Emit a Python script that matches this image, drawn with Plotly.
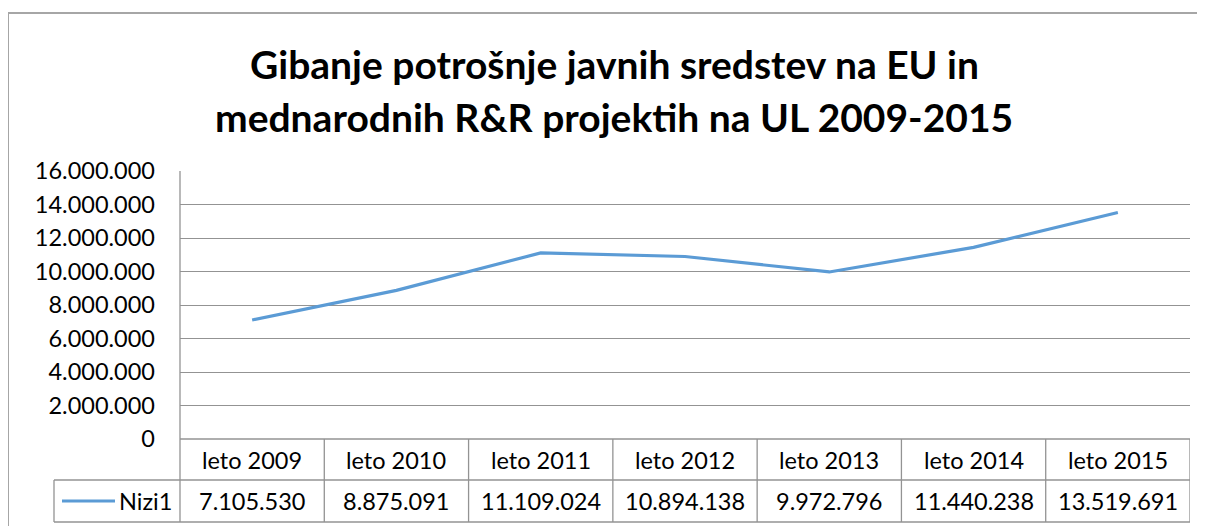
import plotly.graph_objects as go

categories = ["leto 2009", "leto 2010", "leto 2011", "leto 2012", "leto 2013", "leto 2014", "leto 2015"]
values = [7105530, 8875091, 11109024, 10894138, 9972796, 11440238, 13519691]
series_name = "Nizi1"
title_lines = ["Gibanje potrošnje javnih sredstev na EU in", "mednarodnih R&R projektih na UL 2009-2015"]
y_ticks = [0, 2000000, 4000000, 6000000, 8000000, 10000000, 12000000, 14000000, 16000000]

OFF = 8  # page body margin
W, H = 1205 - OFF, 526 - OFF
# plot area in reference-screen pixels
L, R, T, B = 180, 1190, 171, 439
FONT = "Lato"
GRID = "#939393"
BLUE = "#5B9BD5"

def px(xp):
    return (xp - L) / (R - L)

def py(yp):
    return (B - yp) / (B - T)

def fmt(v):
    return f"{v:,}".replace(",", ".")

n = len(categories)
xs = list(range(n))

fig = go.Figure()
fig.add_trace(go.Scatter(x=xs, y=values, mode="lines", name=series_name,
                         line=dict(color=BLUE, width=3.2), showlegend=False,
                         hoverinfo="skip"))

shapes = []
annotations = []
# outer chart border
shapes.append(dict(type="rect", xref="paper", yref="paper", x0=px(8), x1=px(1230),
                   y0=py(560), y1=py(13), line=dict(color="#A6A6A6", width=2)))
# left vertical axis line through table
shapes.append(dict(type="line", xref="paper", yref="paper", x0=0, x1=0,
                   y0=py(522), y1=1, line=dict(color=GRID, width=1.3)))
# table horizontal lines
row1 = py(480)
row2 = py(522)
for yv, x0 in [(0, 0), (row1, px(54)), (row2, px(54))]:
    shapes.append(dict(type="line", xref="paper", yref="paper", x0=x0, x1=1, y0=yv, y1=yv,
                       line=dict(color=GRID, width=1.3)))
shapes.append(dict(type="line", xref="paper", yref="paper", x0=px(54), x1=px(54), y0=row2, y1=row1,
                   line=dict(color=GRID, width=1.3)))
# column separators
for i in range(n):
    xb = i + 0.5
    shapes.append(dict(type="line", xref="x", yref="paper", x0=xb, x1=xb, y0=row2, y1=0,
                       line=dict(color=GRID, width=1.3)))
# legend key line
shapes.append(dict(type="line", xref="paper", yref="paper", x0=px(62), x1=px(115),
                   y0=py(501), y1=py(501), line=dict(color=BLUE, width=3.2)))

TF = dict(family=FONT, size=23.5, color="#000")
for i, (c, v) in enumerate(zip(categories, values)):
    annotations.append(dict(x=i, y=py(460), xref="x", yref="paper", text=c, showarrow=False,
                            font=TF, xanchor="center", yanchor="middle"))
    annotations.append(dict(x=i, y=py(501), xref="x", yref="paper", text=fmt(v), showarrow=False,
                            font=TF, xanchor="center", yanchor="middle"))
annotations.append(dict(x=px(174), y=py(501), xref="paper", yref="paper", text=series_name, showarrow=False,
                        font=TF, xanchor="right", yanchor="middle"))
# title
for line, yc in zip(title_lines, [64, 117]):
    annotations.append(dict(x=px(614), y=py(yc), xref="paper", yref="paper", text="<b>" + line + "</b>",
                            showarrow=False, font=dict(family=FONT, size=39, color="#000"),
                            xanchor="center", yanchor="middle"))

fig.update_layout(
    width=W, height=H,
    margin=dict(l=L - OFF, r=(1205 - R), t=T - OFF, b=(526 - B), pad=0),
    paper_bgcolor="white", plot_bgcolor="white",
    separators=",.",
    shapes=shapes, annotations=annotations,
    xaxis=dict(range=[-0.5, n - 0.5], showticklabels=False, showgrid=False, zeroline=False,
               showline=False, fixedrange=True),
    yaxis=dict(range=[0, 16000000], tickvals=y_ticks, ticktext=[fmt(v) for v in y_ticks],
               showgrid=True, gridcolor=GRID, gridwidth=1.3, zeroline=False, showline=False,
               tickfont=TF, ticks="",
               ticklabelstandoff=24, fixedrange=True),
)

fig.write_html("out.html")
